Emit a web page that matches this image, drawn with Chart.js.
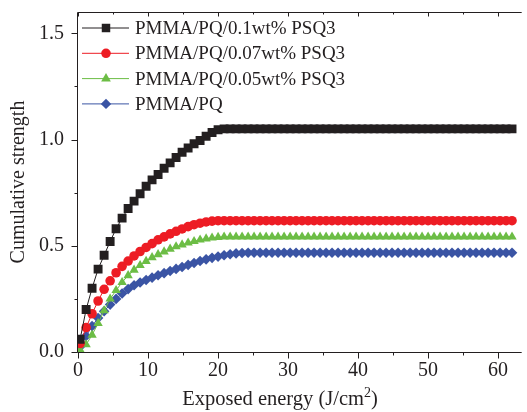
<!DOCTYPE html>
<html>
<head>
<meta charset="utf-8">
<script src="https://cdn.jsdelivr.net/npm/chart.js@4.4.0/dist/chart.umd.min.js"></script>
<style>
    html, body { margin: 0; padding: 0; background: #fff; overflow: hidden; }
</style>
</head>
<body>
<canvas id="strengthChart" width="527" height="412"></canvas>
<script>
// exposed energy (J/cm2), same grid for all four samples
const energy = [
    0.3, 1.16, 2.01, 2.87, 3.73, 4.59, 5.44, 6.3, 7.16, 8.01,
    8.87, 9.73, 10.58, 11.44, 12.3, 13.16, 14.01, 14.87, 15.73, 16.58,
    17.44, 18.3, 19.15, 20.01, 20.87, 21.73, 22.58, 23.44, 24.3, 25.15,
    26.01, 26.87, 27.72, 28.58, 29.44, 30.3, 31.15, 32.01, 32.87, 33.72,
    34.58, 35.44, 36.29, 37.15, 38.01, 38.87, 39.72, 40.58, 41.44, 42.29,
    43.15, 44.01, 44.86, 45.72, 46.58, 47.44, 48.29, 49.15, 50.01, 50.86,
    51.72, 52.58, 53.43, 54.29, 55.15, 56.01, 56.86, 57.72, 58.58, 59.43,
    60.29, 61.15, 62.0
];

const psq3_01 = [
    0.06, 0.20, 0.30, 0.39, 0.455, 0.52, 0.58, 0.63, 0.675, 0.71,
    0.745, 0.78, 0.81, 0.835, 0.865, 0.89, 0.915, 0.94, 0.96, 0.98,
    0.995, 1.015, 1.033, 1.046, 1.05, 1.05, 1.05, 1.05, 1.05, 1.05,
    1.05, 1.05, 1.05, 1.05, 1.05, 1.05, 1.05, 1.05, 1.05, 1.05,
    1.05, 1.05, 1.05, 1.05, 1.05, 1.05, 1.05, 1.05, 1.05, 1.05,
    1.05, 1.05, 1.05, 1.05, 1.05, 1.05, 1.05, 1.05, 1.05, 1.05,
    1.05, 1.05, 1.05, 1.05, 1.05, 1.05, 1.05, 1.05, 1.05, 1.05,
    1.05, 1.05, 1.05
];

const psq3_007 = [
    0.04, 0.115, 0.18, 0.24, 0.295, 0.335, 0.373, 0.403, 0.428, 0.452,
    0.473, 0.492, 0.51, 0.528, 0.542, 0.556, 0.568, 0.579, 0.59, 0.599,
    0.606, 0.612, 0.616, 0.618, 0.618, 0.618, 0.618, 0.618, 0.618, 0.618,
    0.618, 0.618, 0.618, 0.618, 0.618, 0.618, 0.618, 0.618, 0.618, 0.618,
    0.618, 0.618, 0.618, 0.618, 0.618, 0.618, 0.618, 0.618, 0.618, 0.618,
    0.618, 0.618, 0.618, 0.618, 0.618, 0.618, 0.618, 0.618, 0.618, 0.618,
    0.618, 0.618, 0.618, 0.618, 0.618, 0.618, 0.618, 0.618, 0.618, 0.618,
    0.618, 0.618, 0.618
];

const psq3_005 = [
    0.01, 0.035, 0.08, 0.135, 0.195, 0.25, 0.29, 0.328, 0.36, 0.386,
    0.408, 0.427, 0.445, 0.459, 0.472, 0.485, 0.496, 0.505, 0.514, 0.521,
    0.528, 0.533, 0.537, 0.54, 0.542, 0.542, 0.542, 0.542, 0.542, 0.542,
    0.542, 0.542, 0.542, 0.542, 0.542, 0.542, 0.542, 0.542, 0.542, 0.542,
    0.542, 0.542, 0.542, 0.542, 0.542, 0.542, 0.542, 0.542, 0.542, 0.542,
    0.542, 0.542, 0.542, 0.542, 0.542, 0.542, 0.542, 0.542, 0.542, 0.542,
    0.542, 0.542, 0.542, 0.542, 0.542, 0.542, 0.542, 0.542, 0.542, 0.542,
    0.542, 0.542, 0.542
];

const pmmaPq = [
    0.025, 0.075, 0.122, 0.16, 0.192, 0.223, 0.25, 0.275, 0.296, 0.314,
    0.327, 0.339, 0.35, 0.361, 0.371, 0.381, 0.391, 0.40, 0.41, 0.419,
    0.428, 0.436, 0.443, 0.449, 0.455, 0.46, 0.464, 0.466, 0.467, 0.467,
    0.467, 0.467, 0.467, 0.467, 0.467, 0.467, 0.467, 0.467, 0.467, 0.467,
    0.467, 0.467, 0.467, 0.467, 0.467, 0.467, 0.467, 0.467, 0.467, 0.467,
    0.467, 0.467, 0.467, 0.467, 0.467, 0.467, 0.467, 0.467, 0.467, 0.467,
    0.467, 0.467, 0.467, 0.467, 0.467, 0.467, 0.467, 0.467, 0.467, 0.467,
    0.467, 0.467, 0.467
];

const seriesLabels = [
    'PMMA/PQ/0.1wt% PSQ3',
    'PMMA/PQ/0.07wt% PSQ3',
    'PMMA/PQ/0.05wt% PSQ3',
    'PMMA/PQ'
];

const ink = '#231f20';
const serif = '"Liberation Serif", "Times New Roman", serif';

function toPoints(values) {
    return values.map((v, i) => ({ x: energy[i], y: v }));
}

function makeSet(label, values, color, style, radius, legendRadius) {
    return {
        label: label,
        data: toPoints(values),
        borderColor: color,
        backgroundColor: color,
        borderWidth: 1,
        pointStyle: style,
        pointRadius: radius,
        pointHoverRadius: radius,
        pointBorderWidth: 0,
        showLine: true,
        legendRadius: legendRadius
    };
}

// axis frame with in/out ticks like the origin plot
const frameTicks = {
    id: 'frameTicks',
    beforeDatasetsDraw(chart) {
        const { ctx, chartArea: a, scales: { x, y } } = chart;
        const left = Math.round(a.left) - 0.5;
        const bottom = Math.round(a.bottom) + 0.5;
        const top = Math.round(a.top) + 0.5;
        ctx.save();
        ctx.strokeStyle = ink;
        ctx.lineWidth = 1;
        ctx.beginPath();
        ctx.moveTo(left, top);
        ctx.lineTo(left, bottom);
        ctx.moveTo(left, bottom);
        ctx.lineTo(a.right + 1, bottom);
        ctx.moveTo(left, top);
        ctx.lineTo(a.right + 1, top);

        x.ticks.forEach(t => {
            const px = Math.round(x.getPixelForValue(t.value)) + 0.5;
            const major = t.value % 10 === 0;
            ctx.moveTo(px, bottom);
            ctx.lineTo(px, bottom + (major ? 6 : 3));
            ctx.moveTo(px, top);
            ctx.lineTo(px, top + (major ? 4 : 2));
        });
        y.ticks.forEach(t => {
            const py = Math.round(y.getPixelForValue(t.value)) + 0.5;
            const major = Math.abs(t.value * 2 - Math.round(t.value * 2)) < 1e-6;
            ctx.moveTo(left, py);
            ctx.lineTo(left - (major ? 6 : 3), py);
        });
        ctx.stroke();
        ctx.restore();
    }
};

// legend with line - marker - line, and the x title with superscript
const plotLegend = {
    id: 'plotLegend',
    afterDraw(chart) {
        const { ctx, chartArea: a } = chart;
        ctx.save();
        chart.data.datasets.forEach((ds, i) => {
            const rowY = 28 + i * 25.3;
            ctx.strokeStyle = ds.borderColor;
            ctx.fillStyle = ds.backgroundColor;
            ctx.lineWidth = 1;
            ctx.beginPath();
            ctx.moveTo(a.left + 4, rowY);
            ctx.lineTo(a.left + 51, rowY);
            ctx.stroke();
            Chart.helpers.drawPoint(ctx, {
                pointStyle: ds.pointStyle,
                radius: ds.legendRadius,
                rotation: 0,
                borderWidth: 0
            }, a.left + 28, rowY);

            ctx.fillStyle = ink;
            ctx.font = '19px ' + serif;
            ctx.textBaseline = 'middle';
            ctx.textAlign = 'left';
            ctx.fillText(ds.label, a.left + 57, rowY + 1);
        });

        // x title: Exposed energy (J/cm²)
        const mainText = 'Exposed energy (J/cm';
        ctx.textBaseline = 'alphabetic';
        ctx.font = '20.5px ' + serif;
        const w1 = ctx.measureText(mainText).width;
        const w3 = ctx.measureText(')').width;
        ctx.font = '14px ' + serif;
        const w2 = ctx.measureText('2').width;
        const startX = a.left + 202 - (w1 + w2 + w3) / 2;
        const baseY = 405;
        ctx.font = '20.5px ' + serif;
        ctx.fillText(mainText, startX, baseY);
        ctx.font = '14px ' + serif;
        ctx.fillText('2', startX + w1, baseY - 8);
        ctx.font = '20.5px ' + serif;
        ctx.fillText(')', startX + w1 + w2, baseY);
        ctx.restore();
    }
};

const ctxStrength = document.getElementById('strengthChart').getContext('2d');
const strengthChart = new Chart(ctxStrength, {
    type: 'scatter',
    data: {
        datasets: [
            makeSet(seriesLabels[0], psq3_01, '#231f20', 'rect', 6.3, 6.0),
            makeSet(seriesLabels[1], psq3_007, '#ed1c24', 'circle', 4.8, 4.8),
            makeSet(seriesLabels[2], psq3_005, '#6cbd45', 'triangle', 5.4, 5.6),
            makeSet(seriesLabels[3], pmmaPq, '#3a54a4', 'rectRot', 5.3, 5.2)
        ]
    },
    options: {
        responsive: false,
        devicePixelRatio: 1,
        animation: false,
        events: [],
        layout: { padding: { top: 12, left: 0, right: 0, bottom: 0 } },
        plugins: {
            legend: { display: false },
            tooltip: { enabled: false }
        },
        scales: {
            x: {
                type: 'linear',
                min: 0,
                max: 63.24,
                grid: { display: false, drawTicks: false },
                border: { display: false },
                ticks: {
                    stepSize: 5,
                    includeBounds: false,
                    maxRotation: 0,
                    autoSkip: false,
                    padding: 7,
                    color: ink,
                    font: { family: serif, size: 20 },
                    callback: v => (v % 10 === 0 ? String(v) : '')
                },
                afterFit: scale => {
                    scale.height = 60;
                    scale.paddingLeft = 0;
                    scale.paddingRight = 0;
                }
            },
            y: {
                type: 'linear',
                min: 0,
                max: 1.6,
                grid: { display: false, drawTicks: false },
                border: { display: false },
                title: {
                    display: true,
                    text: 'Cumulative strength',
                    color: ink,
                    font: { family: serif, size: 20 },
                    padding: { top: 7, bottom: 0 }
                },
                ticks: {
                    stepSize: 0.25,
                    includeBounds: false,
                    autoSkip: false,
                    padding: 14,
                    color: ink,
                    font: { family: serif, size: 20 },
                    callback: v => (Math.abs(v * 2 - Math.round(v * 2)) < 1e-6 ? v.toFixed(1) : '')
                },
                afterFit: scale => {
                    scale.width = 78;
                    scale.paddingTop = 0;
                    scale.paddingBottom = 0;
                }
            }
        }
    },
    plugins: [frameTicks, plotLegend]
});
</script>
</body>
</html>
